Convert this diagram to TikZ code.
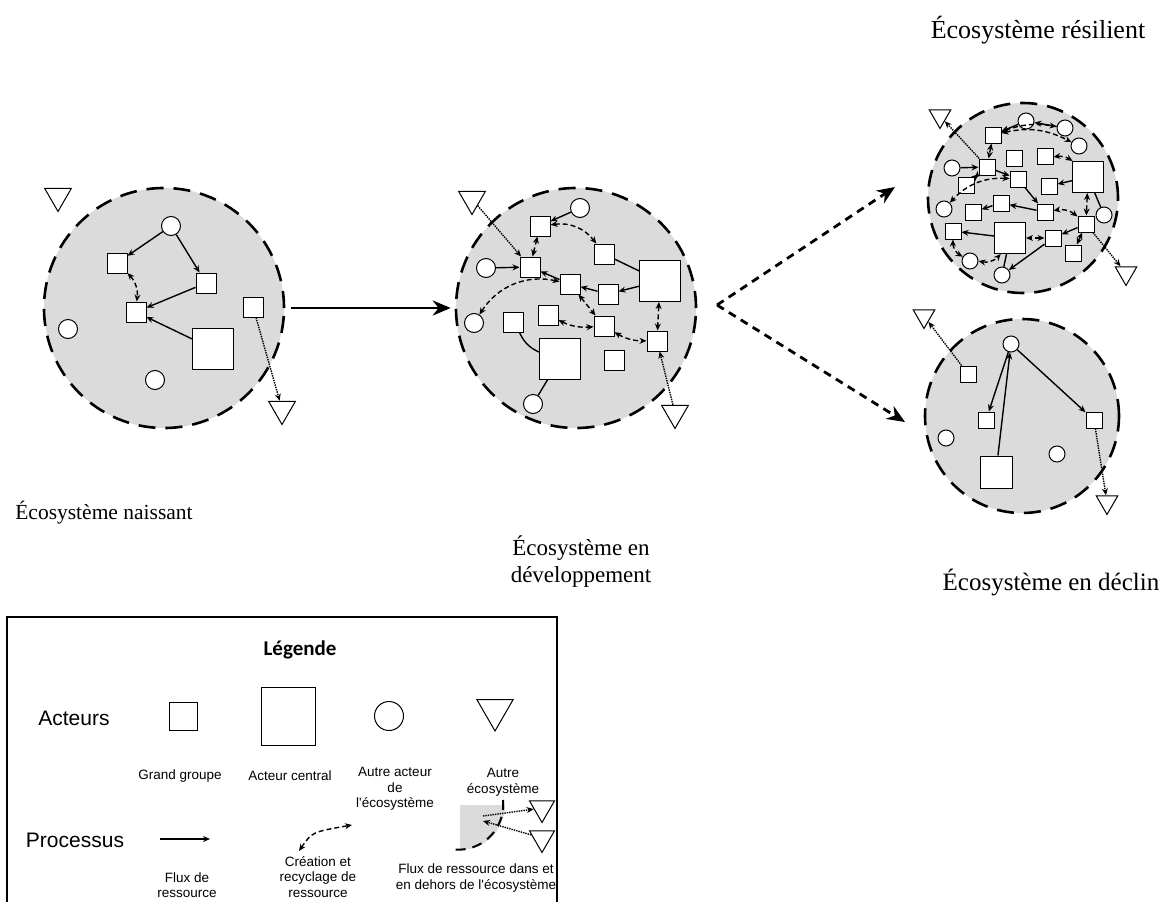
\documentclass[tikz,border=0pt]{standalone}
\usepackage{fontspec}
\setmainfont{Liberation Serif}
\newfontfamily\legfont{Liberation Sans}
\newfontfamily\headfont{Carlito}
\usetikzlibrary{arrows.meta,shapes.geometric}

\tikzset{
  eco/.style={circle, draw, fill=black!14, line width=2.6pt, dash pattern=on 17pt off 10pt, inner sep=0pt, minimum size=#1},
  grp/.style={draw, fill=white, line width=1pt, inner sep=0pt, minimum size=#1}, grp/.default=20pt,
  pivot/.style={draw, fill=white, line width=1pt, inner sep=0pt, minimum size=#1}, pivot/.default=41pt,
  actor/.style={circle, draw, fill=white, line width=1pt, inner sep=0pt, minimum size=#1}, actor/.default=19pt,
  ext/.style={regular polygon, regular polygon sides=3, shape border rotate=180, draw, fill=white, line width=1pt, inner sep=0pt, minimum size=#1}, ext/.default=31pt,
  flow/.style={->, line width=1.4pt},
  link/.style={draw, line width=1.4pt},
  recyc/.style={<->, line width=1.4pt, dash pattern=on 5pt off 3pt},
  leak/.style={->, line width=1.4pt, densely dotted},
  bigflow/.style={-{Stealth[length=18pt,width=15pt]}, line width=2.8pt},
  bigfork/.style={-{Stealth[length=18pt,width=15pt]}, line width=2.8pt, dash pattern=on 8pt off 6pt},
  title/.style={font=\fontsize{#1}{27}\selectfont, align=center}, title/.default=21.5,
  legtext/.style={font=\legfont\fontsize{13.5}{15.5}\selectfont, align=center},
  legrow/.style={font=\legfont\fontsize{21}{25}\selectfont},
}

\begin{document}
\begin{tikzpicture}[x=1pt, y=-1pt, >={Stealth[length=7pt,width=6pt]}]
\useasboundingbox (0,0) rectangle (1162,902);

% naissant
\node[eco=240pt] at (164,308) (eco1) {};
\node[ext] at (58,196) (t1a) {};
\node[actor] at (171,226) (a1) {};
\node[grp] at (117,263) (g1) {};
\node[grp] at (206,283) (g2) {};
\node[grp] at (136,312) (g3) {};
\node[grp] at (253,307) (g4) {};
\node[pivot] at (213,349) (p1) {};
\node[actor] at (68,329) (a2) {};
\node[actor] at (155,380) (a3) {};
\node[ext] at (282,409) (t1b) {};
\path[flow] (a1) edge (g1) edge (g2);
\path[flow] (g2) edge (g3);
\path[flow] (p1) edge (g3);
\path[recyc] (g1) edge[bend left=25] (g3);
\path[leak] (g4) edge (t1b);

% en developpement
\node[eco=240pt] at (576,308) (eco2) {};
\node[ext] at (472,199) (t2a) {};
\node[actor] at (580,208) (a4) {};
\node[grp] at (540,226) (g5) {};
\node[grp] at (604,254) (g6) {};
\node[pivot] at (660,281) (p2) {};
\node[actor] at (486,268) (a5) {};
\node[grp] at (530,267) (g7) {};
\node[grp] at (570,284) (g8) {};
\node[grp] at (608,294) (g9) {};
\node[actor] at (474,323) (a6) {};
\node[grp] at (513,322) (g10) {};
\node[grp] at (548,315) (g11) {};
\node[grp] at (604,326) (g12) {};
\node[grp] at (657,341) (g13) {};
\node[pivot] at (560,359) (p3) {};
\node[grp] at (614,360) (g14) {};
\node[actor] at (533,404) (a7) {};
\node[ext] at (675,413) (t2b) {};
\path[flow] (a4) edge (g5);
\path[flow] (a5) edge (g7);
\path[flow] (g8) edge (g7);
\path[flow] (g9) edge (g8);
\path[flow] (p2) edge (g9);
\path[link] (p2) edge (g6);
\path[link] (g10) edge[bend right=20] (p3);
\path[link] (a7) edge (p3);
\path[leak] (t2a) edge (g7);
\path[leak] (t2b) edge (g13);
\path[recyc] (g7) edge (g5);
\path[recyc] (g5) edge[bend left=30] (g6);
\path[recyc] (a6) edge[bend left=35] (g8);
\path[recyc] (g8) edge (g12);
\path[recyc] (g11) edge[bend right=15] (g12);
\path[recyc] (g12) edge[bend right=15] (g13);
\path[recyc] (p2) edge (g13);

% resilient
\node[eco=190pt] at (1023,198) (eco3) {};
\node[ext=25pt] at (940,116) (t3a) {};
\node[actor=16pt] at (1026,121) (a8) {};
\node[actor=16pt] at (1065,128) (a9) {};
\node[actor=16pt] at (1079,146) (a10) {};
\node[grp=16pt] at (993,135) (g15) {};
\node[grp=16pt] at (1014,158) (g16) {};
\node[grp=16pt] at (1045,156) (g17) {};
\node[pivot=31pt] at (1088,177) (p4) {};
\node[actor=16pt] at (952,168) (a11) {};
\node[grp=16pt] at (987,167) (g18) {};
\node[grp=16pt] at (1018,179) (g19) {};
\node[grp=16pt] at (966,185) (g20) {};
\node[grp=16pt] at (1049,186) (g21) {};
\node[actor=16pt] at (944,209) (a12) {};
\node[grp=16pt] at (973,212) (g22) {};
\node[grp=16pt] at (1001,203) (g23) {};
\node[grp=16pt] at (1045,212) (g24) {};
\node[actor=16pt] at (1104,215) (a13) {};
\node[grp=16pt] at (1086,224) (g25) {};
\node[grp=16pt] at (953,231) (g26) {};
\node[pivot=31pt] at (1010,238) (p5) {};
\node[grp=16pt] at (1053,238) (g27) {};
\node[grp=16pt] at (1073,253) (g28) {};
\node[actor=16pt] at (970,261) (a14) {};
\node[actor=16pt] at (1002,275) (a15) {};
\node[ext=25pt] at (1126,273) (t3b) {};
\path[flow] (a8) edge (g15);
\path[flow] (a9) edge (a8);
\path[flow] (a11) edge (g18);
\path[flow] (g18) edge (g19);
\path[flow] (p4) edge (g21);
\path[flow] (g19) edge (g24);
\path[flow] (g24) edge (g23);
\path[flow] (g23) edge (g22);
\path[link] (p4) edge (a13);
\path[flow] (g25) edge (g27);
\path[flow] (p5) edge (g26);
\path[link] (p5) edge (a15);
\path[flow] (g27) edge (a15);
\path[leak] (g18) edge (t3a);
\path[leak] (g25) edge (t3b);
\path[recyc] (g15) edge[bend left=15] (a9);
\path[recyc] (g15) edge[bend left=20] (a10);
\path[recyc] (g15) edge (g18);
\path[recyc] (g18) edge (g20);
\path[recyc] (g17) edge[bend left=20] (p4);
\path[recyc] (g19) edge[bend right=25] (a12);
\path[recyc] (g25) edge[bend right=25] (g24);
\path[recyc] (p4) edge (g25);
\path[recyc] (g27) edge (p5);
\path[recyc] (g26) edge[bend right=30] (a14);
\path[recyc] (a14) edge[bend right=30] (p5);
\path[recyc] (g25) edge (g28);

% en declin
\node[eco=194pt] at (1022,416) (eco4) {};
\node[ext=25pt] at (924,316) (t4a) {};
\node[actor=16pt] at (1011,344) (a16) {};
\node[grp=16pt] at (968,374) (g29) {};
\node[grp=16pt] at (986,420) (g30) {};
\node[grp=16pt] at (1094,420) (g31) {};
\node[actor=16pt] at (946,438) (a17) {};
\node[actor=16pt] at (1057,454) (a18) {};
\node[pivot=32pt] at (996,472) (p6) {};
\node[ext=25pt] at (1107,502) (t4b) {};
\path[flow] (a16) edge (g30) edge (g31);
\path[flow] (p6) edge (a16);
\path[leak] (g29) edge (t4a);
\path[leak] (g31) edge (t4b);

% passages
\draw[bigflow, shorten <=6pt, shorten >=4pt] (eco1) -- (eco2);
\coordinate (fork) at (717,305);
\coordinate (up) at (895,187);
\coordinate (down) at (905,422);
\draw[bigfork] (fork) -- (up);
\draw[bigfork] (fork) -- (down);

\node[title] at (104,513) (lab1) {Écosystème naissant};
\node[title=23] at (581,562) (lab2) {Écosystème en\\développement};
\node[title=26] at (1038,30) (lab3) {Écosystème résilient};
\node[title=25] at (1051,582) (lab4) {Écosystème en déclin};

% legende
\draw[line width=2.6pt] (7,902) -- (7,617) -- (557,617) -- (557,902);
\node[font=\headfont\bfseries\fontsize{21}{25}\selectfont] at (300,650) (leg) {Légende};
\node[legrow] at (74,718) (acteurs) {Acteurs};
\node[grp=28pt] at (183,716) (lgrp) {};
\node[pivot, minimum width=54pt, minimum height=58pt] at (288,716) (lpivot) {};
\node[actor=29pt] at (389,716) (lactor) {};
\node[ext=42pt] at (495,710) (lext) {};
\node[legtext] at (180,776) (tgrp) {Grand groupe};
\node[legtext] at (290,776) (tpivot) {Acteur central};
\node[legtext] at (395,789) (tactor) {Autre acteur\\de\\l'écosystème};
\node[legtext] at (503,782) (text) {Autre\\écosystème};
\node[legrow] at (75,840) (processus) {Processus};
\coordinate (fl1) at (160,839);
\coordinate (fl2) at (210,839);
\draw[flow] (fl1) -- (fl2);
\node[legtext] at (187,885) (tflow) {Flux de\\ressource};
\coordinate (rc1) at (299,851);
\coordinate (rc2) at (352,825);
\draw[recyc] (rc1) .. controls (312,832) .. (rc2);
\node[legtext] at (318,877) (trecyc) {Création et\\recyclage de\\ressource};
\fill[black!14] (460,805) -- (505,805) arc[start angle=0, end angle=90, radius=45] -- cycle;
\draw[line width=2pt, dash pattern=on 10pt off 7pt] (503,800) arc[start angle=-6, end angle=100, radius=45];
\node[ext=29pt] at (542,808) (lt1) {};
\node[ext=29pt] at (542,838) (lt2) {};
\coordinate (lin1) at (483,816);
\coordinate (lin2) at (483,821);
\draw[leak] (lin1) -- (lt1);
\draw[leak] (lt2) -- (lin2);
\node[legtext] at (476,878) (tleak) {Flux de ressource dans et\\en dehors de l'écosystème};
\end{tikzpicture}
\end{document}
